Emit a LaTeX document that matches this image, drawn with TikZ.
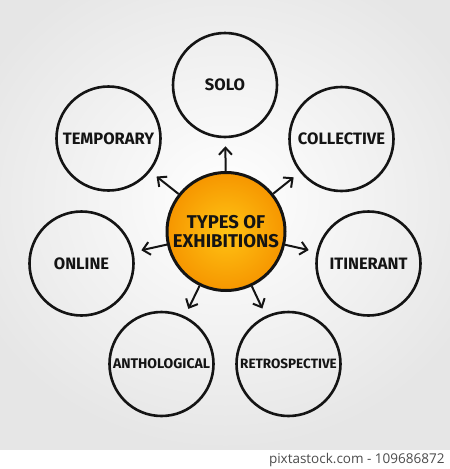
\documentclass[tikz,border=0pt]{standalone}
\usepackage{fontspec}
\setmainfont{Fira Sans}
\newfontfamily\capfont{Open Sans}
\usetikzlibrary{arrows.meta}
\definecolor{ink}{RGB}{20,20,20}
\definecolor{orin}{RGB}{255,196,20}
\definecolor{orout}{RGB}{246,150,0}
\definecolor{bgedge}{RGB}{230,230,230}
\tikzset{
  outer/.style={circle, draw=ink, line width=2.6pt, minimum size=104pt, inner sep=0pt,
    text=ink, font=\bfseries\fontsize{16.5}{16}\selectfont},
  hub/.style={circle, draw=ink, line width=3pt, minimum size=118pt, inner sep=0pt,
    inner color=orin, outer color=orout, text=ink, align=center,
    font=\bfseries\fontsize{18.5}{19}\selectfont},
  arr/.style={draw=ink, line width=2pt, -{Straight Barb[length=7pt,width=13pt,line width=2pt]},
    shorten >=8pt}
}
\begin{document}
\begin{tikzpicture}[x=1pt,y=-1pt]
\useasboundingbox (0,0) rectangle (450,469);
\fill[white] (0,0) rectangle (450,469);
\shade[inner color=white, outer color=bgedge] (-50,-50) rectangle (500,450);
\fill[white] (0,450) rectangle (450,469);
\node[anchor=east, text=black!70, font=\capfont\fontsize{13.5}{14}\selectfont] (cap) at (448,460) {pixtastock.com - 109686872};

\node[hub] (c) at (226,231.5) {TYPES OF\\EXHIBITIONS};
\node[outer] (solo) at (225,85) {SOLO};
\node[outer] (coll) at (341.5,139) {COLLECTIVE};
\node[outer] (itin) at (368.5,263.5) {ITINERANT};
\node[outer, font=\bfseries\fontsize{13.5}{13}\selectfont] (retro) at (288.5,364) {RETROSPECTIVE};
\node[outer, font=\bfseries\fontsize{14}{13}\selectfont] (antho) at (161.5,364) {ANTHOLOGICAL};
\node[outer] (online) at (81.5,263.5) {ONLINE};
\node[outer] (temp) at (108.5,138.5) {TEMPORARY};

\foreach \t in {solo,coll,itin,retro,antho,online,temp}
  \draw[arr] (c) -- (\t);
\end{tikzpicture}
\end{document}
